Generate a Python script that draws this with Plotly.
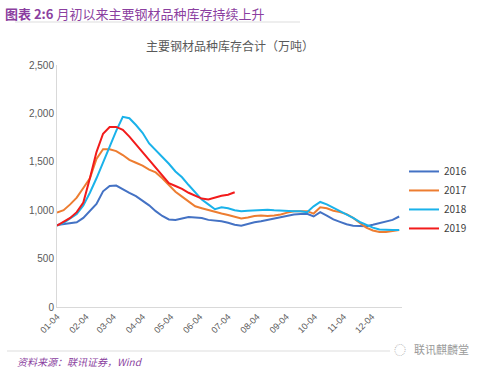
import plotly.graph_objects as go
from datetime import date, timedelta

start = date(2016, 1, 4)
weeks = [(start + timedelta(days=7 * i)).isoformat() for i in range(53)]

tick_dates = ["2016-%02d-04" % m for m in range(1, 13)]
tick_labels = ["%02d-04" % m for m in range(1, 13)]

s2016 = [847, 855, 860, 875, 920, 990, 1065, 1195, 1250, 1255, 1215, 1180, 1145, 1100,
         1050, 990, 940, 905, 900, 915, 930, 925, 920, 900, 895, 885, 870, 850, 840, 860,
         875, 885, 900, 915, 930, 945, 955, 960, 962, 935, 980, 945, 905, 880, 855, 840,
         835, 835, 850, 865, 880, 900, 935]
s2017 = [975, 1000, 1060, 1130, 1230, 1330, 1530, 1630, 1630, 1610, 1570, 1520, 1490, 1460,
         1420, 1390, 1330, 1260, 1190, 1140, 1090, 1040, 1020, 1000, 985, 965, 950, 935, 915,
         925, 940, 945, 940, 945, 955, 975, 990, 990, 990, 965, 1030, 1020, 995, 980, 960,
         920, 870, 820, 790, 775, 775, 785, 795]
s2018 = [840, 870, 915, 960, 1050, 1180, 1330, 1500, 1660, 1820, 1965, 1950, 1880, 1800,
         1690, 1620, 1560, 1480, 1400, 1340, 1260, 1180, 1110, 1060, 1010, 1030, 1020, 1000,
         990, 995, 1000, 1000, 1005, 1000, 995, 995, 990, 990, 980, 1040, 1085, 1060, 1025,
         990, 960, 920, 880, 850, 820, 800, 795, 795, 795]
s2019 = [840, 880, 920, 980, 1080, 1330, 1600, 1790, 1860, 1860, 1830, 1760, 1680, 1600,
         1520, 1440, 1350, 1280, 1250, 1220, 1180, 1150, 1120, 1110, 1130, 1150, 1160, 1185]

series = [("2016", s2016, "#4472C4"), ("2017", s2017, "#ED7D31"),
          ("2018", s2018, "#1AB2EA"), ("2019", s2019, "#F21B1B")]

fig = go.Figure()
for name, vals, col in series:
    fig.add_trace(go.Scatter(x=weeks[:len(vals)], y=vals, name=name, mode="lines",
                             line=dict(color=col, width=2)))

fig.update_layout(
    width=496, height=374,
    margin=dict(l=57, r=94, t=65, b=67, autoexpand=False),
    paper_bgcolor="white", plot_bgcolor="white",
    font=dict(family="Noto Sans CJK SC, Noto Sans, sans-serif", color="#595959", size=10),
    showlegend=True,
    legend=dict(x=(404 - 57) / 345, y=0.62, xanchor="left", yanchor="top",
                font=dict(size=10, color="#404040"), itemwidth=30, tracegroupgap=0),
    xaxis=dict(type="date", range=["2016-01-04", "2017-01-05"], automargin=False,
               tickvals=tick_dates, ticktext=tick_labels, tickangle=-45,
               showgrid=False, showline=True, linecolor="#D9D9D9", linewidth=1,
               ticks="", tickfont=dict(size=9, family="Liberation Sans, sans-serif"),
               zeroline=False),
    yaxis=dict(range=[0, 2500], tickvals=[0, 500, 1000, 1500, 2000, 2500], automargin=False,
               ticktext=["0", "500", "1,000", "1,500", "2,000", "2,500"],
               showgrid=False, showline=True, linecolor="#D9D9D9", linewidth=1,
               ticks="", ticklen=0, tickfont=dict(size=10, family="Liberation Sans, sans-serif"),
               zeroline=False),
)

fig.add_annotation(text="<b>图表 2:6</b> 月初以来主要钢材品种库存持续上升", xref="paper", yref="paper",
                   x=-54/345, y=1 + 52/242, xanchor="left", yanchor="middle", showarrow=False,
                   font=dict(size=13, color="#8B3FA0", family="Noto Sans CJK SC"))
fig.add_annotation(text="主要钢材品种库存合计（万吨）", xref="paper", yref="paper",
                   x=0.5, y=1 + 20/242, xanchor="center", yanchor="middle", showarrow=False,
                   font=dict(size=12, color="#595959", family="Noto Sans CJK SC"))
fig.add_annotation(text="<i>资料来源：联讯证券，Wind</i>", xref="paper", yref="paper",
                   x=-42/345, y=-(361-307)/242, xanchor="left", yanchor="middle", showarrow=False,
                   font=dict(size=10, color="#8B3FA0", family="Noto Sans CJK SC"))
fig.add_annotation(text="联讯麒麟堂", xref="paper", yref="paper",
                   x=(412-57)/345, y=-(349-307)/242, xanchor="left", yanchor="middle", showarrow=False,
                   font=dict(size=11, color="#9A9A9A", family="Noto Sans CJK SC"))
fig.add_annotation(text="◌", xref="paper", yref="paper",
                   x=(400-57)/345, y=-(349-307)/242, xanchor="center", yanchor="middle", showarrow=False,
                   font=dict(size=12, color="#B0B0B0"))

fig.add_shape(type="line", xref="paper", yref="paper",
              x0=-42/345, x1=(300-57)/345, y0=1 + 43/242, y1=1 + 43/242,
              line=dict(color="#DDDDDD", width=1))
fig.add_shape(type="line", xref="paper", yref="paper",
              x0=-50/345, x1=(390-57)/345, y0=-(351-307)/242, y1=-(351-307)/242,
              line=dict(color="#DDDDDD", width=1))

fig.write_html("out.html", config={"displayModeBar": False},
               post_script="document.body.style.margin='0';document.body.style.overflow='hidden';")
